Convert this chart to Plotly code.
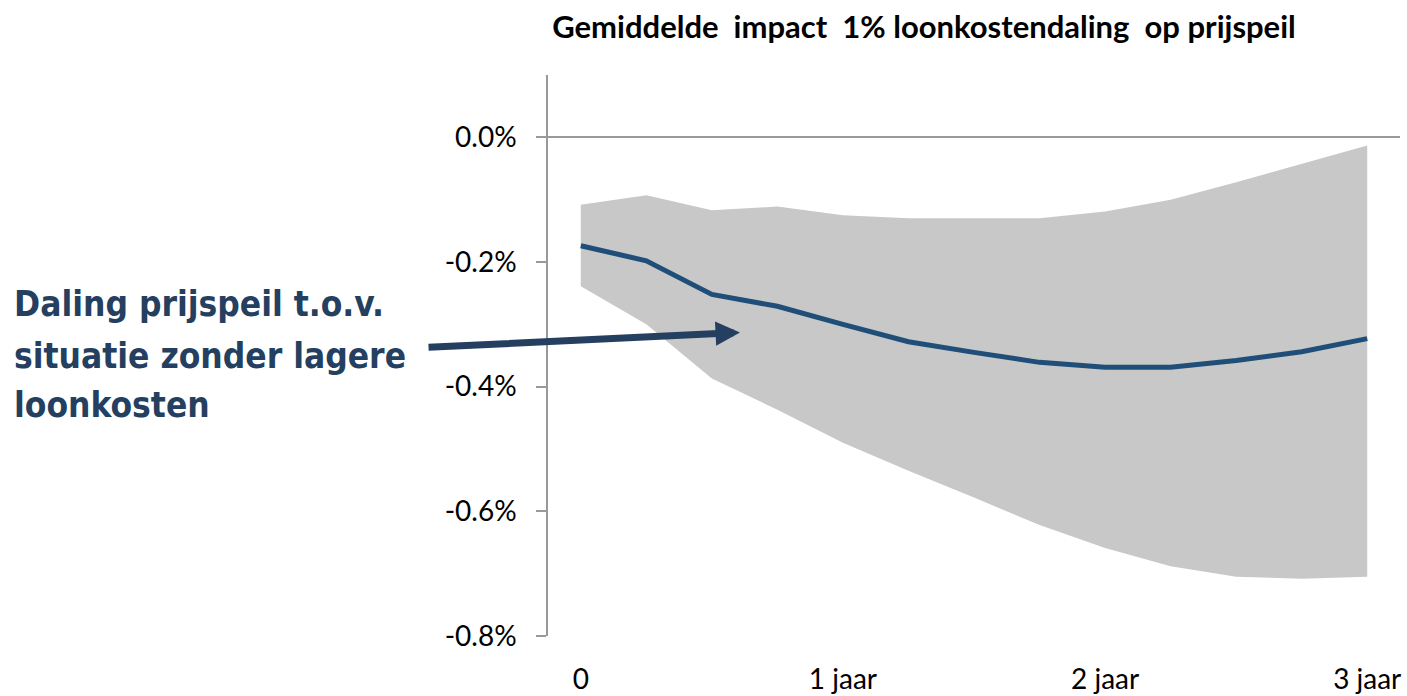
import plotly.graph_objects as go

quarters = list(range(13))
mean_vals = [-0.174, -0.198, -0.252, -0.271, -0.300, -0.328, -0.345, -0.361, -0.369, -0.369, -0.358, -0.344, -0.323]
upper_vals = [-0.108, -0.093, -0.117, -0.111, -0.125, -0.130, -0.130, -0.130, -0.119, -0.100, -0.072, -0.043, -0.013]
lower_vals = [-0.239, -0.300, -0.387, -0.437, -0.490, -0.535, -0.578, -0.622, -0.659, -0.688, -0.705, -0.708, -0.705]
x_tick_vals = [0, 4, 8, 12]
x_tick_text = ["0", "1 jaar", "2 jaar", "3 jaar"]
y_tick_vals = [-0.8, -0.6, -0.4, -0.2, 0.0]
y_tick_text = ["-0.8%", "-0.6%", "-0.4%", "-0.2%", "0.0%"]
note_lines = ["Daling prijspeil t.o.v.", "situatie zonder lagere", "loonkosten"]

W, H = 1407, 696
L, R, T, B = 548, 7, 75, 60
plot_w = W - L - R
plot_h = H - T - B

fig = go.Figure()
fig.add_trace(go.Scatter(x=quarters, y=lower_vals, mode="lines", line=dict(width=0, color="#C8C8C8"),
                         showlegend=False, hoverinfo="skip"))
fig.add_trace(go.Scatter(x=quarters, y=upper_vals, mode="lines", line=dict(width=0, color="#C8C8C8"),
                         fill="tonexty", fillcolor="#C8C8C8", showlegend=False, hoverinfo="skip"))
fig.add_trace(go.Scatter(x=quarters, y=mean_vals, mode="lines", line=dict(width=5, color="#1F4E79"),
                         showlegend=False))

tick_font = dict(family="Lato, Liberation Sans, sans-serif", size=28, color="#000000")

fig.update_layout(
    width=W, height=H,
    margin=dict(l=L, r=R, t=T, b=B, pad=0),
    plot_bgcolor="white", paper_bgcolor="white",
    title=dict(text="<b>Gemiddelde  impact  1% loonkostendaling  op prijspeil</b>",
               x=924 / W, xanchor="center", xref="container",
               y=1 - 27 / H, yanchor="middle", yref="container", automargin=False,
               font=dict(family="Lato, Liberation Sans, sans-serif", size=31, color="#000000")),
    xaxis=dict(range=[-0.5, 12.5], tickvals=x_tick_vals, ticktext=x_tick_text, showgrid=False,
               zeroline=False, showline=False, ticks="outside", ticklen=18, automargin=False,
               tickcolor="rgba(0,0,0,0)", tickfont=tick_font),
    yaxis=dict(range=[-0.8, 0.1], tickvals=y_tick_vals, ticktext=y_tick_text, automargin=False,
               showgrid=False, zeroline=True, zerolinecolor="#999999", zerolinewidth=1.5,
               showline=True, linecolor="#999999", linewidth=1.5, ticks="outside", ticklen=10,
               tickcolor="#999999", tickwidth=1.5, tickfont=tick_font, ticklabelstandoff=14),
)

fig.add_annotation(
    x=2.43, y=-0.313, xref="x", yref="y", ax=-313, ay=15, axref="pixel", ayref="pixel",
    text="", showarrow=True, arrowhead=2, arrowwidth=7, arrowsize=0.7, arrowcolor="#243F60", standoff=0,
)

for line_text, y_px in zip(note_lines, [304, 356, 405]):
    fig.add_annotation(
        x=(12 - L) / plot_w, y=(H - B - y_px) / plot_h, xref="paper", yref="paper",
        xanchor="left", yanchor="middle", align="left", showarrow=False,
        text="<b>" + line_text + "</b>",
        font=dict(family="DejaVu Sans Condensed, sans-serif", size=35, color="#243F60"),
    )

fig.write_html("out.html", config={"displayModeBar": False},
               post_script="document.body.style.margin='0';document.body.style.overflow='hidden';")
